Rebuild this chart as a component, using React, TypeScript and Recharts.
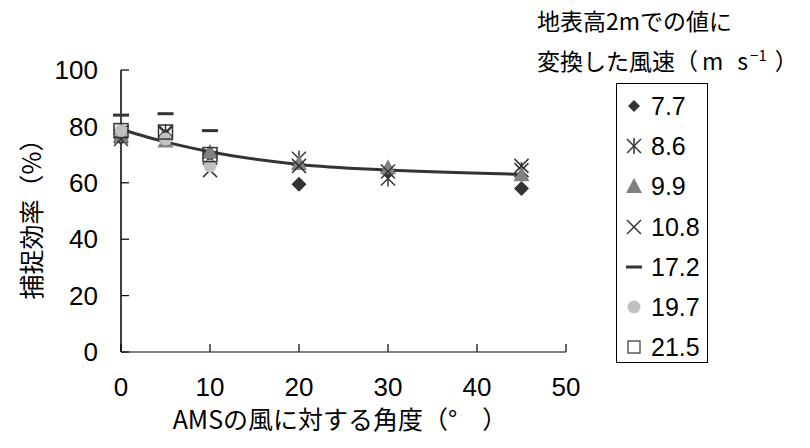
import React from 'react';
import { ComposedChart, Scatter, Line, XAxis, YAxis, Legend } from 'recharts';

const angles = [0, 5, 10, 20, 30, 45];
const speedLabels = ['7.7', '8.6', '9.9', '10.8', '17.2', '19.7', '21.5'];
const s77: (number | null)[] = [76, 76.5, 70, 59.5, 64, 58];
const s86: (number | null)[] = [76.5, 78, 69, 68.5, 61.5, 64.5];
const s99: (number | null)[] = [77, 75, 71, 67, 65.5, 63];
const s108: (number | null)[] = [75.5, 77.5, 64.5, 66, 64, 66];
const s172: (number | null)[] = [84, 84.5, 78.5, null, null, null];
const s197: (number | null)[] = [78.5, 75.5, 66, null, null, null];
const s215: (number | null)[] = [78.5, 78, 70, null, null, null];
const trend = [79, 74.5, 71, 66.5, 64.5, 63];
const xTicks = [0, 10, 20, 30, 40, 50];
const yTicks = [0, 20, 40, 60, 80, 100];

const FONT = "'Noto Sans CJK JP', 'Noto Sans', sans-serif";
const NUMFONT = "'Liberation Sans', Arial, sans-serif";
const DARK = '#333333';

const toPts = (vals: (number | null)[]) =>
  angles.map((a, i) => ({ x: a, y: vals[i] })).filter((d) => d.y != null);

const Diamond = (p: any) => {
  const { cx, cy } = p;
  const r = 7.5;
  return <path d={`M${cx},${cy - r}L${cx + r},${cy}L${cx},${cy + r}L${cx - r},${cy}Z`} fill={DARK} />;
};
const Asterisk = (p: any) => {
  const { cx, cy } = p;
  const r = 7;
  return (
    <g stroke={DARK} strokeWidth={1.5}>
      <line x1={cx - r} y1={cy - r} x2={cx + r} y2={cy + r} />
      <line x1={cx - r} y1={cy + r} x2={cx + r} y2={cy - r} />
      <line x1={cx} y1={cy - r - 1} x2={cx} y2={cy + r + 1} />
    </g>
  );
};
const Triangle = (p: any) => {
  const { cx, cy } = p;
  return <path d={`M${cx},${cy - 8}L${cx + 8},${cy + 7}L${cx - 8},${cy + 7}Z`} fill="#808080" />;
};
const Cross = (p: any) => {
  const { cx, cy } = p;
  const r = 7;
  return (
    <g stroke={DARK} strokeWidth={1.5}>
      <line x1={cx - r} y1={cy - r} x2={cx + r} y2={cy + r} />
      <line x1={cx - r} y1={cy + r} x2={cx + r} y2={cy - r} />
    </g>
  );
};
const Dash = (p: any) => {
  const { cx, cy } = p;
  return <line x1={cx - 8} y1={cy} x2={cx + 8} y2={cy} stroke={DARK} strokeWidth={3} />;
};
const Dot = (p: any) => {
  const { cx, cy } = p;
  return <circle cx={cx} cy={cy} r={6.5} fill="#c0c0c0" />;
};
const Square = (p: any) => {
  const { cx, cy } = p;
  return <rect x={cx - 7} y={cy - 7} width={14} height={14} fill="none" stroke={DARK} strokeWidth={1.5} />;
};
const DiamondLegend = (p: any) => {
  const { cx, cy } = p;
  const r = 6;
  return <path d={`M${cx},${cy - r}L${cx + r},${cy}L${cx},${cy + r}L${cx - r},${cy}Z`} fill={DARK} />;
};
const SquareLegend = (p: any) => {
  const { cx, cy } = p;
  return <rect x={cx - 6} y={cy - 6} width={12} height={12} fill="#fff" stroke={DARK} strokeWidth={1.2} />;
};

const shapes = [Diamond, Asterisk, Triangle, Cross, Dash, Dot, Square];
const legendShapes = [DiamondLegend, Asterisk, Triangle, Cross, Dash, Dot, SquareLegend];
const seriesVals = [s77, s86, s99, s108, s172, s197, s215];

const trendData = angles.map((a, i) => ({ x: a, y: trend[i] }));

const LegendBox = () => (
  <div
    style={{
      width: 92,
      height: 280,
      border: '1px solid #000',
      boxSizing: 'border-box',
      position: 'relative',
      background: '#fff',
    }}
  >
    {speedLabels.map((lab, i) => {
      const S = legendShapes[i];
      return (
        <div
          key={lab}
          style={{ position: 'absolute', left: 0, top: 22 + i * 40.2 - 15, height: 30, display: 'flex', alignItems: 'center' }}
        >
          <svg width={34} height={30} style={{ display: 'block' }}>
            <S cx={17} cy={15} />
          </svg>
          <span style={{ fontSize: 25, color: '#000', lineHeight: '30px', fontFamily: NUMFONT }}>{lab}</span>
        </div>
      );
    })}
  </div>
);

export default function App() {
  return (
    <div style={{ position: 'absolute', left: 0, top: 0, width: 810, height: 448, background: '#fff', fontFamily: FONT }}>
      <ComposedChart width={810} height={448} margin={{ top: 70, right: 152, bottom: 0, left: 0 }}>
        <XAxis
          dataKey="x"
          type="number"
          domain={[0, 50]}
          ticks={xTicks}
          height={96}
          tickSize={-8}
          tickMargin={34}
          axisLine={{ stroke: '#808080', strokeWidth: 2 }}
          tickLine={{ stroke: DARK, strokeWidth: 1.5 }}
          tick={{ fill: '#000', fontSize: 26, fontFamily: NUMFONT }}
          allowDuplicatedCategory={false}
        />
        <YAxis
          dataKey="y"
          type="number"
          domain={[0, 100]}
          ticks={yTicks}
          width={121}
          tickSize={-8}
          tickMargin={31}
          axisLine={{ stroke: '#000', strokeWidth: 1.5 }}
          tickLine={{ stroke: '#000', strokeWidth: 1.2 }}
          tick={{ fill: '#000', fontSize: 26, fontFamily: NUMFONT }}
        />
        {seriesVals.map((vals, i) => (
          <Scatter
            key={speedLabels[i]}
            name={speedLabels[i]}
            data={toPts(vals)}
            dataKey="y"
            shape={shapes[i]}
            isAnimationActive={false}
          />
        ))}
        <Line
          data={trendData}
          dataKey="y"
          type="monotone"
          stroke={DARK}
          strokeWidth={3}
          dot={false}
          activeDot={false}
          legendType="none"
          isAnimationActive={false}
        />
        <Legend
          layout="vertical"
          align="right"
          verticalAlign="top"
          content={() => <LegendBox />}
          wrapperStyle={{ position: 'absolute', left: 616, top: 83, width: 92, height: 280 }}
        />
      </ComposedChart>
      <div style={{ position: 'absolute', left: 537, top: 5, fontSize: 23, lineHeight: '30px', color: '#000', whiteSpace: 'nowrap' }}>
        地表高2mでの値に
      </div>
      <div style={{ position: 'absolute', left: 537, top: 45, fontSize: 23, lineHeight: '30px', color: '#000', whiteSpace: 'nowrap' }}>
        変換した風速（<span style={{ marginLeft: 4 }}>m</span><span style={{ marginLeft: 14 }}>s</span>
        <span style={{ fontSize: 15, position: 'relative', top: -9, marginLeft: 2 }}>−1</span>
        <span style={{ marginLeft: 8 }}>）</span>
      </div>
      <div style={{ position: 'absolute', left: 340, top: 405, transform: 'translateX(-50%)', fontSize: 25, lineHeight: '26px', color: '#000', whiteSpace: 'nowrap' }}>
        AMSの風に対する角度（°　）
      </div>
      <div
        style={{
          position: 'absolute',
          left: 30,
          top: 213,
          transform: 'translate(-50%, -50%) rotate(-90deg)',
          fontSize: 25,
          lineHeight: '30px',
          color: '#000',
          whiteSpace: 'nowrap',
        }}
      >
        捕捉効率（%）
      </div>
    </div>
  );
}
